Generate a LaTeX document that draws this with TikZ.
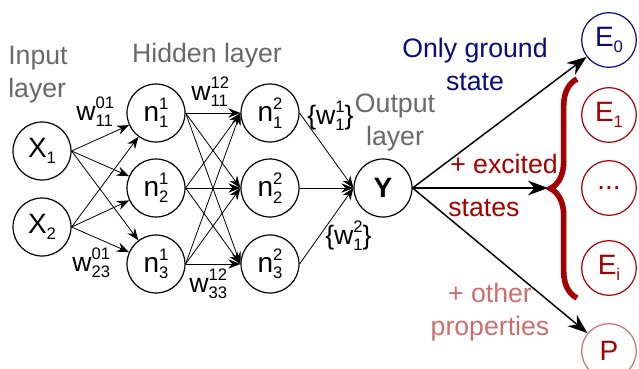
\documentclass[tikz,border=0pt]{standalone}
\usepackage{fontspec}
\setmainfont{Liberation Sans}
\usetikzlibrary{arrows.meta,decorations.pathreplacing}

\definecolor{groundblue}{RGB}{10,10,125}
\definecolor{excitedred}{RGB}{165,0,0}
\definecolor{propred}{RGB}{205,110,110}
\definecolor{layergray}{RGB}{105,105,105}

\newcommand{\supsub}[2]{\rlap{\raisebox{0.42em}{\fontsize{12.5}{13}\selectfont #1}}\raisebox{-0.24em}{\fontsize{12.5}{13}\selectfont #2}}

\begin{document}
\begin{tikzpicture}[
x=0.75pt,
y=-0.75pt,
neuron/.style={draw,circle,line width=0.9pt,minimum size=43.5pt,inner sep=0pt,font=\fontsize{21}{24}\selectfont},
energy/.style={draw,circle,line width=0.9pt,minimum size=41pt,inner sep=0pt,font=\fontsize{21}{24}\selectfont},
layername/.style={text=layergray,inner sep=0pt,font=\fontsize{20}{24.75}\selectfont},
weight/.style={inner sep=0pt,font=\fontsize{20}{24}\selectfont},
remark/.style={inner sep=0pt,font=\fontsize{20}{24.75}\selectfont},
link/.style={-{Stealth[length=9pt,width=7pt]},line width=0.6pt},
bigarrow/.style={-{Stealth[length=15pt,width=11pt]},line width=1.1pt}]

\useasboundingbox
(0,0)
rectangle
(639,368);

% input layer
\node[neuron]
(X1)
at (42,151)
{X\supsub{}{1}};

\node[neuron]
(X2)
at (42,227)
{X\supsub{}{2}};

% hidden layers
\node[neuron]
(n11)
at (156,113)
{n\supsub{1}{1}};

\node[neuron]
(n12)
at (156,188)
{n\supsub{1}{2}};

\node[neuron]
(n13)
at (156,264)
{n\supsub{1}{3}};

\node[neuron]
(n21)
at (270,113)
{n\supsub{2}{1}};

\node[neuron]
(n22)
at (270,188)
{n\supsub{2}{2}};

\node[neuron]
(n23)
at (270,264)
{n\supsub{2}{3}};

% output
\node[neuron,font=\fontsize{21}{24}\selectfont\bfseries]
(Y)
at (383,188)
{Y};

\node[energy,draw=groundblue,text=groundblue]
(E0)
at (609,40)
{E\supsub{}{0}};

\node[energy,draw=excitedred,text=excitedred]
(E1)
at (609,115)
{E\supsub{}{1}};

\node[energy,draw=excitedred,text=excitedred]
(Edots)
at (609,188)
{...};

\node[energy,draw=excitedred,text=excitedred]
(Ei)
at (609,268)
{E\supsub{}{i}};

\node[energy,draw=propred,text=excitedred]
(P)
at (609,351)
{P};

% layer names
\node[layername,align=left,anchor=west]
(inname)
at (8,75)
{Input\\layer};

\node[layername,anchor=base]
(hidname)
at (207,62)
{Hidden layer};

\node[layername,align=center]
(outname)
at (395,122)
{Output\\layer};

% weights
\node[weight,anchor=base west]
(w0111)
at (76,120)
{w\supsub{01}{11}};

\node[weight,anchor=base west]
(w0123)
at (72,271)
{w\supsub{01}{23}};

\node[weight,anchor=base west]
(w1211)
at (191,100)
{w\supsub{12}{11}};

\node[weight,anchor=base west]
(w1233)
at (189,292)
{w\supsub{12}{33}};

\node[weight,anchor=base west]
(wout1)
at (307,124)
{\{w\supsub{1}{1}\}};

\node[weight,anchor=base west]
(wout2)
at (325,244)
{\{w\supsub{2}{1}\}};

% arrows to the first hidden layer
\draw[link] (X1.east) -- (n11);
\draw[link] (X1.east) -- (n12);
\draw[link] (X1.east) -- (n13);
\draw[link] (X2.east) -- (n11);
\draw[link] (X2.east) -- (n12);
\draw[link] (X2.east) -- (n13);

% arrows to the second hidden layer
\draw[link] (n11.east) -- (n21.west);
\draw[link] (n11.east) -- (n22.west);
\draw[link] (n11.east) -- (n23.west);
\draw[link] (n12.east) -- (n21.west);
\draw[link] (n12.east) -- (n22.west);
\draw[link] (n12.east) -- (n23.west);
\draw[link] (n13.east) -- (n21.west);
\draw[link] (n13.east) -- (n22.west);
\draw[link] (n13.east) -- (n23.west);

% arrows to the output
\draw[link] (n21.east) -- (Y.west);
\draw[link] (n22.east) -- (Y.west);
\draw[link] (n23.east) -- (Y.west);

% brace over the excited states
\coordinate
(bracetop)
at (577,79);

\coordinate
(bracebot)
at (577,298);

\coordinate
(bracetip)
at (548,188);

\draw[excitedred,line width=4.2pt,decorate,decoration={brace,amplitude=20pt}]
(bracebot)
--
(bracetop);

% output arrows
\draw[bigarrow]
(Y.east)
--
(E0);

\draw[bigarrow]
(Y.east)
--
(bracetip);

\draw[bigarrow]
(Y.east)
--
(P);

% remarks
\node[remark,text=groundblue,align=center]
(ground)
at (475,64)
{Only ground\\state};

\node[remark,text=excitedred,anchor=base west]
(excited)
at (450,173)
{+ excited};

\node[remark,text=excitedred,anchor=base west]
(states)
at (448,216)
{states};

\node[remark,text=propred,align=center]
(props)
at (490,312)
{+ other\\properties};

\end{tikzpicture}
\end{document}
